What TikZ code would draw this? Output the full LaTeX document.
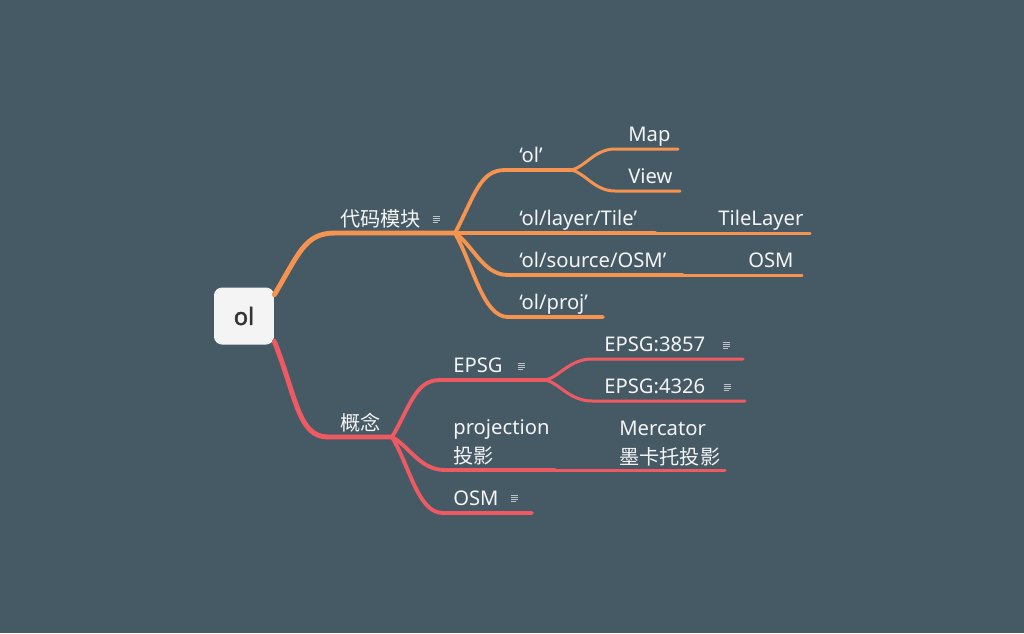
\documentclass[tikz,border=0pt]{standalone}
\usepackage{fontspec}
\setmainfont{Noto Sans}
\newfontfamily\cjk{Noto Sans CJK SC}
\newfontfamily\rootfont{Noto Sans}[FakeBold=2]
\definecolor{mapbg}{HTML}{465A66}
\definecolor{codeorange}{HTML}{F5934F}
\definecolor{conceptred}{HTML}{EF5A62}
\definecolor{topictext}{HTML}{F4F4F4}
\definecolor{notegrey}{HTML}{BCC3C8}
\definecolor{rootfill}{HTML}{F4F4F4}
\definecolor{roottext}{HTML}{333333}
\tikzset{
  topic/.style={text=topictext, font=\fontsize{11.5}{16}\selectfont, inner sep=0pt, anchor=base west, align=left},
  rootbox/.style={fill=rootfill, rounded corners=4.5pt, minimum width=1.2cm, minimum height=1.14cm, text=roottext, font=\fontsize{13.5}{15}\rootfont},
  branchA/.style={line width=2.8pt, line cap=round},
  branchB/.style={line width=2.2pt, line cap=round},
  branchC/.style={line width=1.7pt, line cap=round},
  notemark/.pic={\foreach \k/\w in {-3/7,-1/7,1/7,3/5} \draw[notegrey, line width=0.45pt] (-3.5,\k) -- ++(\w,0);}
}
\begin{document}
\begin{tikzpicture}[x=0.02cm,y=-0.02cm]
\fill[mapbg] (0,0) rectangle (1024,633);
\useasboundingbox (0,0) rectangle (1024,633);

\node[rootbox] (root) at (244,316) {ol};

% code modules
\coordinate (codeS) at (335,233);
\coordinate (codeJ) at (455,233);
\node[topic] (code) at (340,226) {\cjk 代码模块};
\pic at (436,219) {notemark};
\draw[branchA, codeorange] (root.35) .. controls +(25,-42) and +(-30,0) .. (codeS) -- (codeJ);

\coordinate (olS) at (505,170);
\coordinate (olJ) at (572,170);
\node[topic] (olmod) at (519,162) {‘ol’};
\draw[branchB, codeorange] (codeJ) .. controls +(20,-38) and +(-25,0) .. (olS) -- (olJ);

\coordinate (mapS) at (615,149);
\coordinate (mapE) at (678,149);
\node[topic] (map) at (628,141) {Map};
\draw[branchC, codeorange] (olJ) .. controls +(14,-4) and +(-20,0) .. (mapS) -- (mapE);

\coordinate (viewS) at (615,191);
\coordinate (viewE) at (680,191);
\node[topic] (view) at (628,183) {View};
\draw[branchC, codeorange] (olJ) .. controls +(14,4) and +(-20,0) .. (viewS) -- (viewE);

\coordinate (tileM) at (655,233);
\coordinate (tileE) at (810,233);
\node[topic] (tile) at (519,225) {‘ol/layer/Tile’};
\node[topic] (tilelayer) at (718,225) {TileLayer};
\draw[branchB, codeorange] (codeJ) -- (tileM);
\draw[branchC, codeorange] (tileM) -- (tileE);

\coordinate (srcS) at (508,275);
\coordinate (srcM) at (683,275);
\coordinate (srcE) at (802,275);
\node[topic] (source) at (519,267) {‘ol/source/OSM’};
\node[topic] (osmsrc) at (748,267) {OSM};
\draw[branchB, codeorange] (codeJ) .. controls +(18,12) and +(-25,0) .. (srcS) -- (srcM);
\draw[branchC, codeorange] (srcM) -- (srcE);

\coordinate (projS) at (508,317);
\coordinate (projE) at (603,317);
\node[topic] (proj) at (519,309) {‘ol/proj’};
\draw[branchB, codeorange] (codeJ) .. controls +(18,32) and +(-25,0) .. (projS) -- (projE);

% concepts
\coordinate (conS) at (328,437);
\coordinate (conJ) at (392,437);
\node[topic] (concept) at (340,430) {\cjk 概念};
\draw[branchA, conceptred] (root.-40) .. controls +(22,55) and +(-30,0) .. (conS) -- (conJ);

\coordinate (epsgS) at (440,380);
\coordinate (epsgJ) at (546,380);
\node[topic] (epsg) at (453,372) {EPSG};
\pic at (521,366) {notemark};
\draw[branchB, conceptred] (conJ) .. controls +(18,-30) and +(-25,0) .. (epsgS) -- (epsgJ);

\coordinate (mercS) at (592,359);
\coordinate (mercE) at (743,359);
\node[topic] (merc) at (604,351) {EPSG:3857};
\pic at (726,345) {notemark};
\draw[branchC, conceptred] (epsgJ) .. controls +(14,-4) and +(-22,0) .. (mercS) -- (mercE);

\coordinate (wgsS) at (592,401);
\coordinate (wgsE) at (745,401);
\node[topic] (wgs) at (604,393) {EPSG:4326};
\pic at (727,387) {notemark};
\draw[branchC, conceptred] (epsgJ) .. controls +(14,4) and +(-22,0) .. (wgsS) -- (wgsE);

\coordinate (prjS) at (445,470);
\coordinate (prjM) at (555,470);
\coordinate (prjE) at (725,470);
\node[topic] (projection) at (453,463) {projection\\{\cjk 投影}};
\node[topic] (mercator) at (619,464) {Mercator\\{\cjk 墨卡托投影}};
\draw[branchB, conceptred] (conJ) .. controls +(18,10) and +(-25,0) .. (prjS) -- (prjM);
\draw[branchC, conceptred] (prjM) -- (prjE);

\coordinate (cosmS) at (443,513);
\coordinate (cosmE) at (532,513);
\node[topic] (osmcon) at (453,505) {OSM};
\pic at (514,498) {notemark};
\draw[branchB, conceptred] (conJ) .. controls +(18,30) and +(-25,0) .. (cosmS) -- (cosmE);

\end{tikzpicture}
\end{document}
